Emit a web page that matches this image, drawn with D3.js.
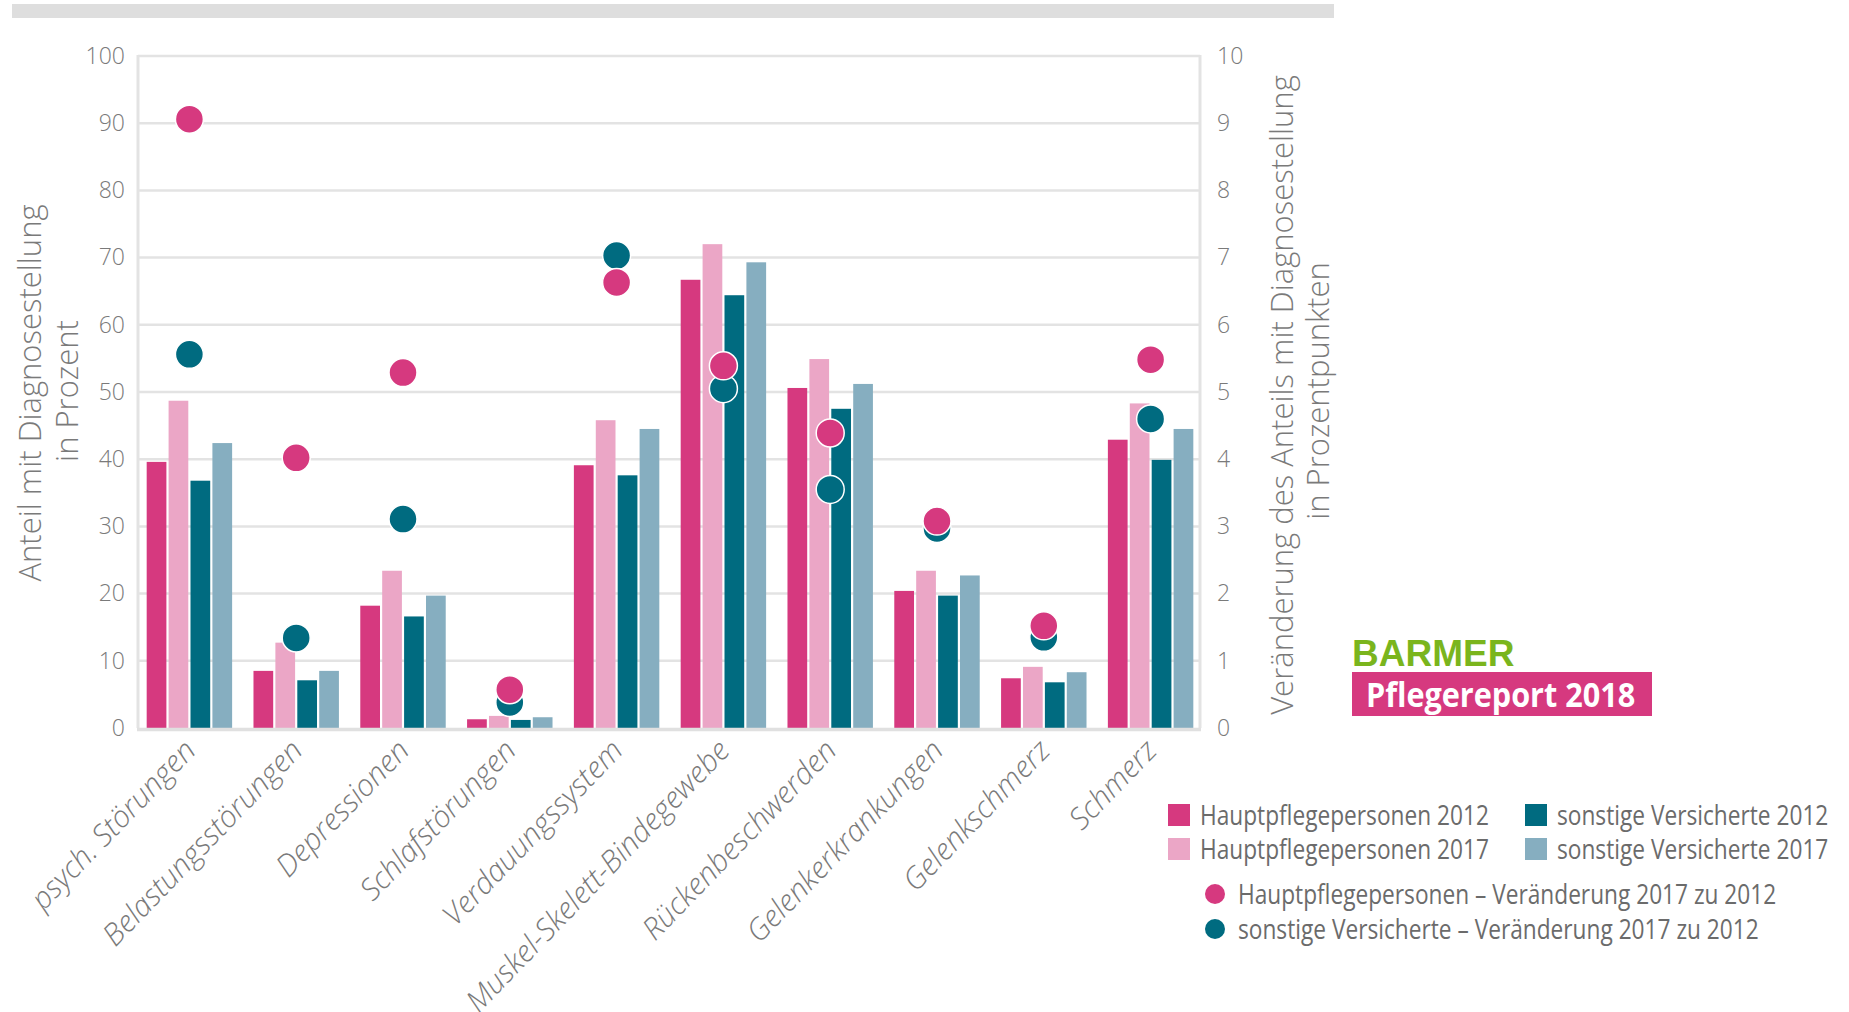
<!DOCTYPE html>
<html>
<head>
<meta charset="utf-8">
<script src="https://cdn.jsdelivr.net/npm/d3@7/dist/d3.min.js"></script>
<style>
  html, body { margin: 0; padding: 0; background: #fff; }
  svg { display: block; }
</style>
</head>
<body>
<svg id="chart" width="1849" height="1012"></svg>
<script>
// ---------- DATA ----------
const categories = ["psych. Störungen", "Belastungsstörungen", "Depressionen", "Schlafstörungen",
  "Verdauungssystem", "Muskel-Skelett-Bindegewebe", "Rückenbeschwerden", "Gelenkerkrankungen",
  "Gelenkschmerz", "Schmerz"];
const hpp2012 = [39.6, 8.5, 18.2, 1.3, 39.1, 66.7, 50.6, 20.4, 7.4, 42.9];
const hpp2017 = [48.7, 12.7, 23.4, 1.8, 45.8, 72.0, 54.9, 23.4, 9.1, 48.3];
const sv2012  = [36.8, 7.1, 16.6, 1.2, 37.6, 64.4, 47.5, 19.7, 6.8, 39.9];
const sv2017  = [42.4, 8.5, 19.7, 1.6, 44.5, 69.3, 51.2, 22.7, 8.3, 44.5];
const hppChange = [9.06, 4.02, 5.29, 0.57, 6.63, 5.39, 4.39, 3.08, 1.52, 5.48];
const svChange  = [5.56, 1.34, 3.11, 0.38, 7.03, 5.05, 3.55, 2.97, 1.35, 4.60];
const leftTicks  = [0, 10, 20, 30, 40, 50, 60, 70, 80, 90, 100];
const rightTicks = [0, 1, 2, 3, 4, 5, 6, 7, 8, 9, 10];
const barSeries = ["Hauptpflegepersonen 2012", "Hauptpflegepersonen 2017", "sonstige Versicherte 2012", "sonstige Versicherte 2017"];
const dotSeries = ["Hauptpflegepersonen – Veränderung 2017 zu 2012", "sonstige Versicherte – Veränderung 2017 zu 2012"];
const leftTitle = ["Anteil mit Diagnosestellung", "in Prozent"];
const rightTitle = ["Veränderung des Anteils mit Diagnosestellung", "in Prozentpunkten"];

// ---------- STYLE ----------
const colors = ["#d6397f", "#eba6c6", "#006b80", "#86aec0"];
const dotColors = ["#d6397f", "#006b80"];
const gridColor = "#e3e3e3";
const textColor = "#7a7a7a";
const condense = 0.84; // horizontal compression for the condensed legend face

const svg = d3.select("#chart");
const plotL = 138, plotR = 1200, plotT = 56, plotB = 728;

const yL = d3.scaleLinear().domain([0, 100]).range([plotB, plotT]);
const yR = d3.scaleLinear().domain([0, 10]).range([plotB, plotT]);
const x0 = d3.scaleBand().domain(categories).range([136, 1204]).paddingInner(0.2).paddingOuter(0.1);
const x1 = d3.scaleBand().domain(barSeries).range([0, x0.bandwidth()]).paddingInner(0.1);

// top gray bar
svg.append("rect").attr("x", 12).attr("y", 4).attr("width", 1322).attr("height", 14).attr("fill", "#dedede");

// gridlines
svg.append("g").selectAll("line").data(leftTicks.filter(d => d > 0)).join("line")
  .attr("x1", plotL).attr("x2", plotR)
  .attr("y1", d => yL(d)).attr("y2", d => yL(d))
  .attr("stroke", gridColor).attr("stroke-width", 2.5);

// vertical axis lines
svg.append("line").attr("x1", plotL).attr("x2", plotL).attr("y1", plotT - 1).attr("y2", plotB)
  .attr("stroke", gridColor).attr("stroke-width", 3);
svg.append("line").attr("x1", plotR).attr("x2", plotR).attr("y1", plotT - 1).attr("y2", plotB)
  .attr("stroke", gridColor).attr("stroke-width", 3);

// left axis
const axL = svg.append("g").attr("transform", `translate(${plotL},0)`)
  .call(d3.axisLeft(yL).tickValues(leftTicks).tickSize(0).tickPadding(13));
axL.select(".domain").remove();
axL.selectAll("text").attr("fill", textColor).style("font-family", "Open Sans, sans-serif")
  .style("font-weight", 300).style("font-size", "23px");

// right axis
const axR = svg.append("g").attr("transform", `translate(${plotR},0)`)
  .call(d3.axisRight(yR).tickValues(rightTicks).tickSize(0).tickPadding(17));
axR.select(".domain").remove();
axR.selectAll("text").attr("fill", textColor).style("font-family", "Open Sans, sans-serif")
  .style("font-weight", 300).style("font-size", "23px");

// bars
const seriesVals = [hpp2012, hpp2017, sv2012, sv2017];
const groups = svg.append("g").selectAll("g").data(categories).join("g")
  .attr("transform", d => `translate(${x0(d)},0)`);
groups.selectAll("rect").data((d, i) => barSeries.map((s, j) => ({ s, v: seriesVals[j][i], j })))
  .join("rect")
  .attr("x", d => x1(d.s)).attr("width", x1.bandwidth())
  .attr("y", d => yL(d.v)).attr("height", d => plotB - yL(d.v))
  .attr("fill", d => colors[d.j]);

// bottom axis line
svg.append("line").attr("x1", plotL - 1).attr("x2", plotR + 1).attr("y1", plotB + 1.5).attr("y2", plotB + 1.5)
  .attr("stroke", "#e0e0e0").attr("stroke-width", 3.5);

// dots
const dotVals = [svChange, hppChange];
const dotCols = [dotColors[1], dotColors[0]];
dotVals.forEach((vals, k) => {
  svg.append("g").selectAll("circle").data(categories).join("circle")
    .attr("cx", d => x0(d) + x0.bandwidth() / 2)
    .attr("cy", (d, i) => yR(vals[i]))
    .attr("r", 14)
    .attr("fill", dotCols[k])
    .attr("stroke", "#fff").attr("stroke-width", 1.5);
});

// x labels
svg.append("g").selectAll("text").data(categories).join("text")
  .attr("transform", d => `translate(${x0(d) + x0.bandwidth() / 2 + 8},${plotB + 24}) rotate(-46)`)
  .attr("text-anchor", "end")
  .attr("fill", textColor)
  .style("font-family", "Open Sans, sans-serif").style("font-weight", 300)
  .style("font-style", "italic").style("font-size", "30px")
  .text(d => d);

// axis titles
const titleStyle = sel => sel.attr("fill", textColor).attr("text-anchor", "middle")
  .style("font-family", "Open Sans, sans-serif").style("font-weight", 300).style("font-size", "31px");
svg.append("text").attr("transform", "translate(41,393) rotate(-90)").text(leftTitle[0]).call(titleStyle);
svg.append("text").attr("transform", "translate(78,391) rotate(-90)").text(leftTitle[1]).call(titleStyle);
svg.append("text").attr("transform", "translate(1293,395) rotate(-90)").text(rightTitle[0]).call(titleStyle);
svg.append("text").attr("transform", "translate(1329,391) rotate(-90)").text(rightTitle[1]).call(titleStyle);

// logo
svg.append("text").attr("x", 1352).attr("y", 666).text("BARMER")
  .attr("fill", "#7ab51d").style("font-family", "Liberation Sans, Arial, sans-serif")
  .style("font-weight", 700).style("font-size", "37px");
svg.append("rect").attr("x", 1352).attr("y", 672).attr("width", 300).attr("height", 44).attr("fill", "#d6397f");
const pr = svg.append("text").attr("x", 1366).attr("y", 707).text("Pflegereport 2018")
  .attr("fill", "#fff").style("font-family", "Open Sans, sans-serif")
  .style("font-weight", 700).style("font-size", "34px");
pr.attr("textLength", pr.node().getComputedTextLength() * 0.9).attr("lengthAdjust", "spacingAndGlyphs");

// legend
const legFont = "Open Sans, sans-serif";
const condText = sel => sel.each(function () {
  const len = this.getComputedTextLength();
  d3.select(this).attr("textLength", len * condense).attr("lengthAdjust", "spacingAndGlyphs");
});
const legPos = [[1168, 815], [1168, 849], [1525, 815], [1525, 849]];
barSeries.forEach((s, j) => {
  const [lx, ly] = legPos[j];
  svg.append("rect").attr("x", lx).attr("y", ly - 11).attr("width", 22).attr("height", 22).attr("fill", colors[j]);
  svg.append("text").attr("x", lx + 32).attr("y", ly).attr("dy", "0.36em").text(s)
    .attr("fill", "#6b6b6b").style("font-family", legFont).style("font-size", "27px").call(condText);
});
const dotLeg = [[1215, 894], [1215, 929]];
dotSeries.forEach((s, j) => {
  const [lx, ly] = dotLeg[j];
  svg.append("circle").attr("cx", lx).attr("cy", ly).attr("r", 10).attr("fill", dotColors[j]);
  svg.append("text").attr("x", lx + 23).attr("y", ly).attr("dy", "0.36em").text(s)
    .attr("fill", "#6b6b6b").style("font-family", legFont).style("font-size", "27px").call(condText);
});
</script>
</body>
</html>
